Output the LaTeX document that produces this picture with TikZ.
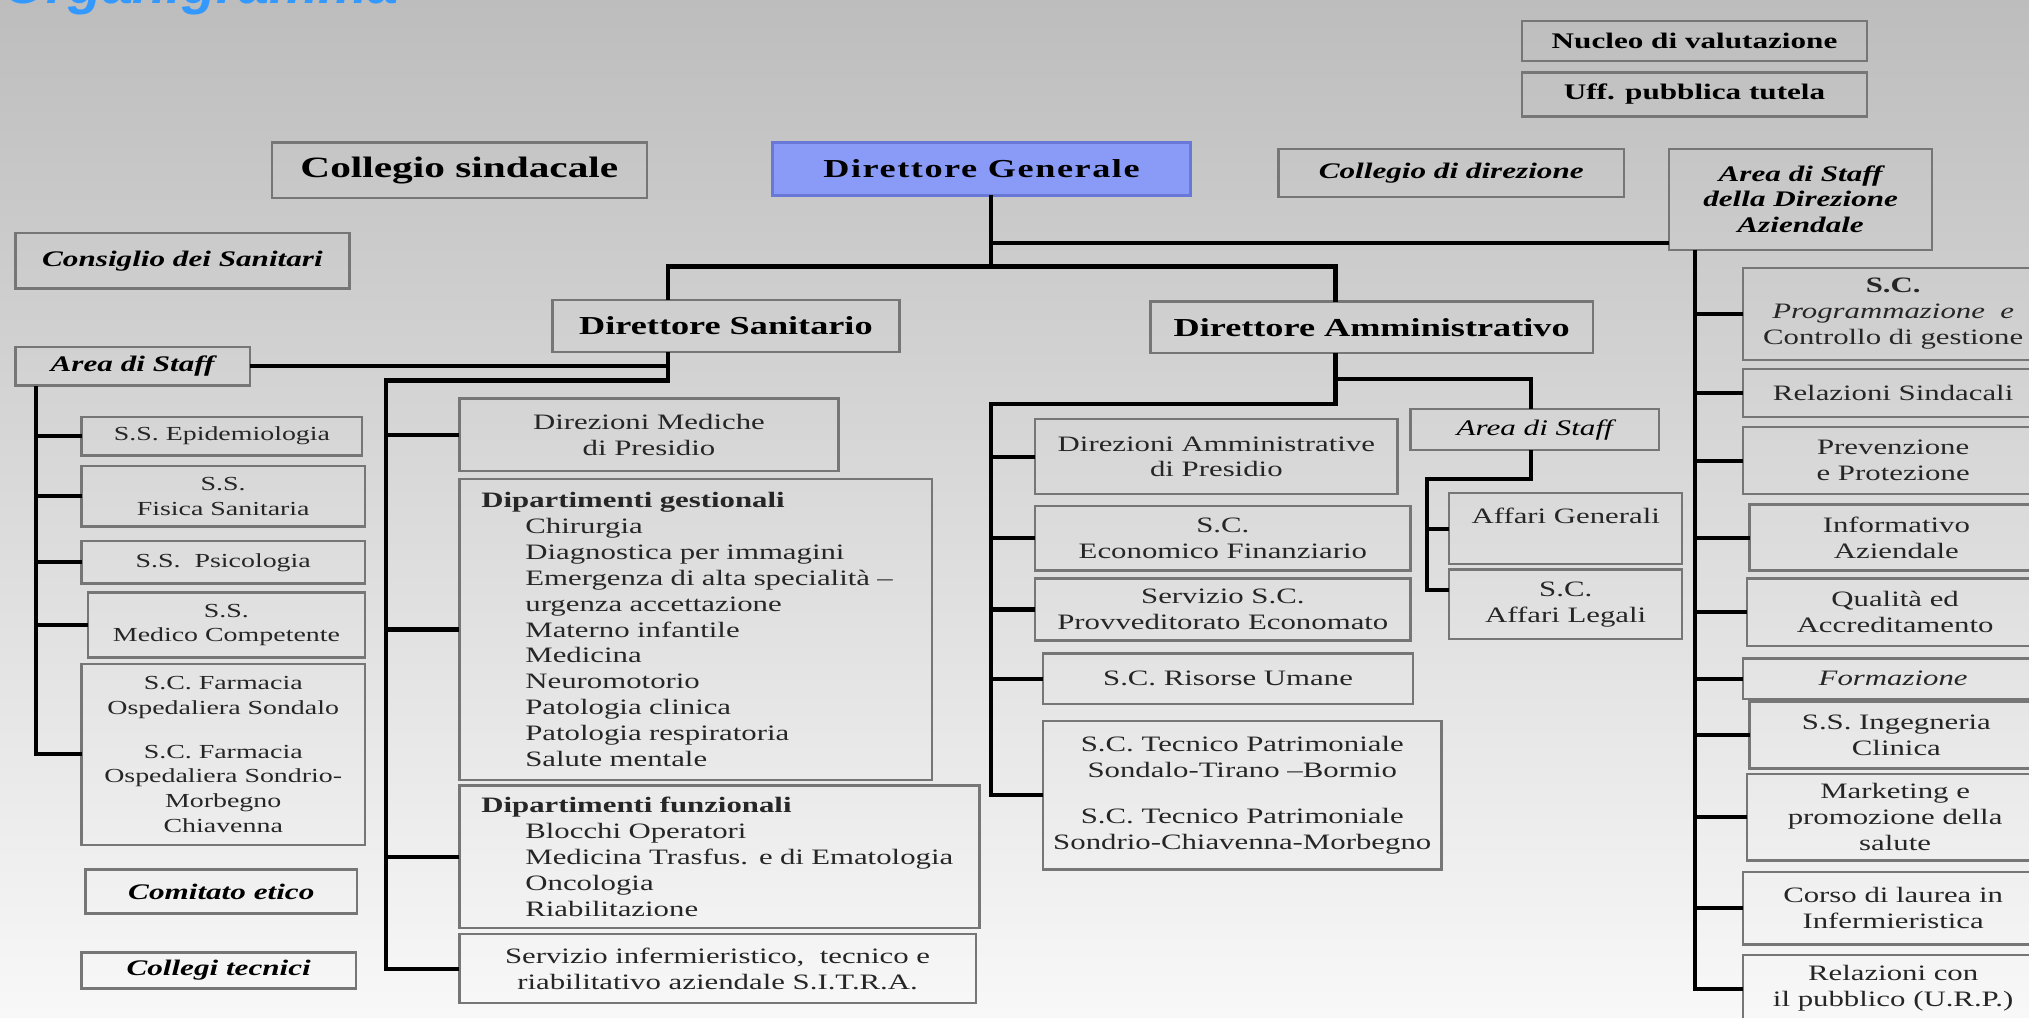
\documentclass[tikz,border=0pt]{standalone}
\usepackage{fontspec}
\setmainfont{Liberation Serif}[FakeStretch=1.4]
\newfontfamily\titlefont{Liberation Sans}
\usetikzlibrary{positioning,calc}

\definecolor{boxline}{RGB}{118,118,118}
\definecolor{dgblue}{RGB}{137,154,247}
\definecolor{dgline}{RGB}{105,120,215}
\definecolor{titleblue}{RGB}{51,153,255}
\definecolor{bgtop}{RGB}{189,189,189}
\definecolor{bgbottom}{RGB}{248,248,248}

\newcommand{\ind}{\hspace*{17pt}}

\begin{document}
\begin{tikzpicture}[x=0.5pt,y=-0.5pt,
    boxsize/.style 2 args={minimum width=#1*0.5pt,minimum height=#2*0.5pt},
    box/.style={draw=boxline,line width=0.9pt,anchor=north west,inner sep=2pt,outer sep=0pt,
      align=center,text=black!85,font=\fontsize{8.5}{10}\selectfont},
    smallbox/.style={box,font=\fontsize{7.7}{9.5}\selectfont},
    headbox/.style={box,text=black,font=\fontsize{10}{12}\selectfont\bfseries},
    staffbox/.style={box,text=black,font=\fontsize{8.6}{10}\selectfont\bfseries\itshape},
    listbox/.style={box,align=left,inner xsep=8.5pt},
    wire/.style={line width=1.6pt,black}]

  \useasboundingbox (0,0) rectangle (1568,786);
  \shade[top color=bgtop,bottom color=bgbottom] (0,0) rectangle (1568,786);

  % title, cut by the top edge
  \node[anchor=base west,inner sep=0pt,text=titleblue,
    font=\titlefont\fontsize{21.5}{22}\selectfont\bfseries\itshape] (title) at (2,3) {Organigramma};

  % top row
  \node[box,boxsize={267}{31},text=black,font=\fontsize{8.6}{10}\selectfont\bfseries] (nucleo) at (1176,16) {Nucleo di valutazione};
  \node[box,boxsize={267}{34},text=black,font=\fontsize{8.6}{10}\selectfont\bfseries] (uff) at (1176,56) {Uff. pubblica tutela};
  \node[headbox,boxsize={290}{43},font=\fontsize{11.4}{13}\selectfont\bfseries] (colsind) at (210,110) {Collegio sindacale};
  \node[headbox,boxsize={323}{41},fill=dgblue,draw=dgline,
    font=\fontsize{10}{12}\selectfont\bfseries\addfontfeature{LetterSpace=6}] (dg) at (597,110) {Direttore Generale};
  \node[staffbox,boxsize={267}{37}] (coldir) at (988,115) {Collegio di direzione};
  \node[staffbox,boxsize={203}{78}] (staffaz) at (1290,115) {Area di Staff\\della Direzione\\Aziendale};
  \node[staffbox,boxsize={258}{43}] (consiglio) at (12,180) {Consiglio dei Sanitari};

  % second level
  \node[headbox,boxsize={268}{40}] (ds) at (427,232) {Direttore Sanitario};
  \node[headbox,boxsize={342}{40}] (da) at (889,233) {Direttore Amministrativo};

  % staff of the Direttore Sanitario
  \node[staffbox,boxsize={181}{30}] (staffds) at (12,268) {Area di Staff};
  \node[smallbox,boxsize={217}{30}] (epi) at (63,322) {S.S. Epidemiologia};
  \node[smallbox,boxsize={219}{47}] (fisica) at (63,360) {S.S.\\Fisica Sanitaria};
  \node[smallbox,boxsize={219}{33}] (psico) at (63,418) {S.S.\ \ Psicologia};
  \node[smallbox,boxsize={214}{50}] (medico) at (68,458) {S.S.\\Medico Competente};
  \node[smallbox,boxsize={219}{140}] (farmacia) at (63,513) {S.C. Farmacia\\Ospedaliera Sondalo\\[7.5pt]S.C. Farmacia\\Ospedaliera Sondrio-\\Morbegno\\Chiavenna};
  \node[staffbox,boxsize={210}{34}] (comitato) at (66,672) {Comitato etico};
  \node[staffbox,boxsize={212}{28}] (collegi) at (63,736) {Collegi tecnici};

  % Direttore Sanitario
  \node[box,boxsize={293}{56}] (dirmed) at (355,308) {Direzioni Mediche\\di Presidio};
  \node[listbox,boxsize={365}{233},text width=165.5pt] (dipges) at (355,370)
    {\textbf{Dipartimenti gestionali}\\\ind Chirurgia\\\ind Diagnostica per immagini\\\ind Emergenza di alta specialità –\\\ind urgenza accettazione\\\ind Materno infantile\\\ind Medicina\\\ind Neuromotorio\\\ind Patologia clinica\\\ind Patologia respiratoria\\\ind Salute mentale};
  \node[listbox,boxsize={402}{110},text width=184pt] (dipfun) at (355,607)
    {\textbf{Dipartimenti funzionali}\\\ind Blocchi Operatori\\\ind Medicina Trasfus. e di Ematologia\\\ind Oncologia\\\ind Riabilitazione};
  \node[box,boxsize={399}{53}] (sitra) at (355,722) {Servizio infermieristico,\ \ tecnico e\\riabilitativo aziendale S.I.T.R.A.};

  % Direttore Amministrativo
  \node[box,boxsize={280}{58}] (diramm) at (800,324) {Direzioni Amministrative\\di Presidio};
  \node[box,boxsize={290}{50}] (ecofin) at (800,391) {S.C.\\Economico Finanziario};
  \node[box,boxsize={290}{48}] (provv) at (800,447) {Servizio S.C.\\Provveditorato Economato};
  \node[box,boxsize={286}{39}] (risorse) at (806,505) {S.C. Risorse Umane};
  \node[box,boxsize={308}{115}] (tecnico) at (806,557) {S.C. Tecnico Patrimoniale\\Sondalo-Tirano –Bormio\\[8pt]S.C. Tecnico Patrimoniale\\Sondrio-Chiavenna-Morbegno};
  \node[box,boxsize={192}{32},text=black,font=\fontsize{8.6}{10}\selectfont\itshape] (staffda) at (1090,316) {Area di Staff};
  \node[box,boxsize={180}{55},text depth=10pt] (affgen) at (1120,381) {Affari Generali};
  \node[box,boxsize={180}{54}] (legali) at (1120,440) {S.C.\\Affari Legali};

  % staff of the Direzione Aziendale
  \node[box,boxsize={232}{71}] (prog) at (1347,207) {\textbf{S.C.}\\\textit{Programmazione\ \ e}\\Controllo di gestione};
  \node[box,boxsize={232}{37}] (relsind) at (1347,285) {Relazioni Sindacali};
  \node[box,boxsize={232}{52}] (prev) at (1347,330) {Prevenzione\\e Protezione};
  \node[box,boxsize={227}{51}] (info) at (1352,390) {Informativo\\Aziendale};
  \node[box,boxsize={229}{52}] (qual) at (1350,447) {Qualità ed\\Accreditamento};
  \node[box,boxsize={232}{31}] (form) at (1347,509) {\textit{Formazione}};
  \node[box,boxsize={227}{52}] (ing) at (1352,542) {S.S. Ingegneria\\Clinica};
  \node[box,boxsize={229}{67}] (mark) at (1350,598) {Marketing e\\promozione della\\salute};
  \node[box,boxsize={232}{56}] (corso) at (1347,674) {Corso di laurea in\\Infermieristica};
  \node[box,boxsize={232}{52}] (urp) at (1347,738) {Relazioni con\\il pubblico (U.R.P.)};

  % junctions
  \coordinate (dgbus) at (766,206);
  \coordinate (dgmid) at (766,188);
  \coordinate (dsx) at (516,0);
  \coordinate (dax) at (1032,0);
  \coordinate (azx) at (1310,0);
  \coordinate (sx) at (28,0);
  \coordinate (dsspine) at (298,294);
  \coordinate (daspine) at (766,312);
  \coordinate (dastaff) at (1032,293);
  \coordinate (sdx) at (1183,0);
  \coordinate (sdbus) at (1103,370);

  % Direttore Generale
  \draw[wire] (dg.south -| dgbus) -- (dgbus);
  \draw[wire] (ds.north -| dsx) |- (dgbus) -| (da.north -| dax);
  \draw[wire] (dgmid) -- (staffaz.west |- dgmid);
  \draw[wire] (staffaz.south -| azx) |- (urp.west);
  \foreach \n in {prog,relsind,prev,info,qual,form,ing,mark,corso}
    \draw[wire] (azx |- \n.west) -- (\n.west);

  % Direttore Sanitario
  \draw[wire] (ds.south -| dsx) |- (dsspine) |- (sitra.west);
  \foreach \n in {dirmed,dipges,dipfun}
    \draw[wire] (dsspine |- \n.west) -- (\n.west);
  \draw[wire] (staffds.east) -- (staffds.east -| dsx);
  \draw[wire] (staffds.south -| sx) |- (farmacia.west);
  \foreach \n in {epi,fisica,psico,medico}
    \draw[wire] (sx |- \n.west) -- (\n.west);

  % Direttore Amministrativo
  \draw[wire] (da.south -| dax) |- (daspine) |- (tecnico.west);
  \foreach \n in {diramm,ecofin,provv,risorse}
    \draw[wire] (daspine |- \n.west) -- (\n.west);
  \draw[wire] (dastaff) -| (staffda.north -| sdx);
  \draw[wire] (staffda.south -| sdx) |- (sdbus) |- ($(legali.north west)!.3!(legali.south west)$);
  \draw[wire] (sdbus |- affgen.west) -- (affgen.west);
\end{tikzpicture}
\end{document}
